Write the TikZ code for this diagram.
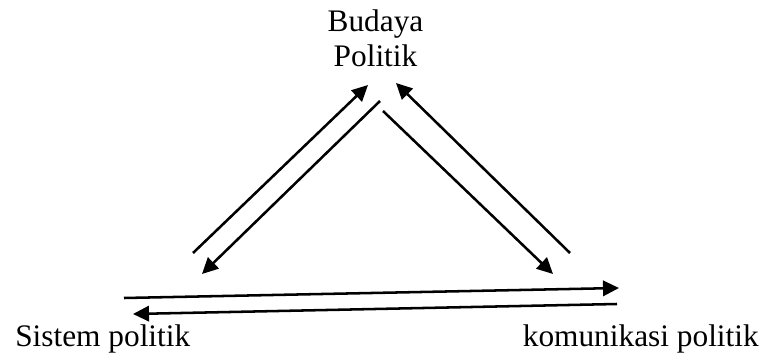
\documentclass[tikz,border=0pt]{standalone}
\usepackage{fontspec}
\setmainfont{Liberation Serif}
\usetikzlibrary{arrows.meta}
\begin{document}
\begin{tikzpicture}[x=0.75pt,y=-0.75pt,
  label/.style={inner sep=0pt,font=\fontsize{23.5}{28}\selectfont},
  flow/.style={line width=1.9pt,-{Triangle[length=12pt,width=11.5pt]}}]
\useasboundingbox (0,0) rectangle (763,356);

% labels
\node[label,anchor=base] (budaya) at (375.5,32) {Budaya};
\node[label,anchor=base] (politik) at (375.5,67) {Politik};
\node[label,anchor=base west] (sistem) at (15,346) {Sistem politik};
\node[label,anchor=base east] (komunikasi) at (759,346) {komunikasi politik};

% arrow end points
\coordinate (a1s) at (193,253); \coordinate (a1e) at (368,85);
\coordinate (a2s) at (380,101); \coordinate (a2e) at (202,274);
\coordinate (a3s) at (383,111); \coordinate (a3e) at (553,274);
\coordinate (a4s) at (570,253); \coordinate (a4e) at (396,83);
\coordinate (h1s) at (124,298); \coordinate (h1e) at (619,288);
\coordinate (h2s) at (617,304); \coordinate (h2e) at (133,314);

% left side: sistem <-> budaya
\draw[flow] (a1s) -- (a1e);
\draw[flow] (a2s) -- (a2e);
% right side: budaya <-> komunikasi
\draw[flow] (a3s) -- (a3e);
\draw[flow] (a4s) -- (a4e);
% bottom: sistem <-> komunikasi
\draw[flow] (h1s) -- (h1e);
\draw[flow] (h2s) -- (h2e);
\end{tikzpicture}
\end{document}
